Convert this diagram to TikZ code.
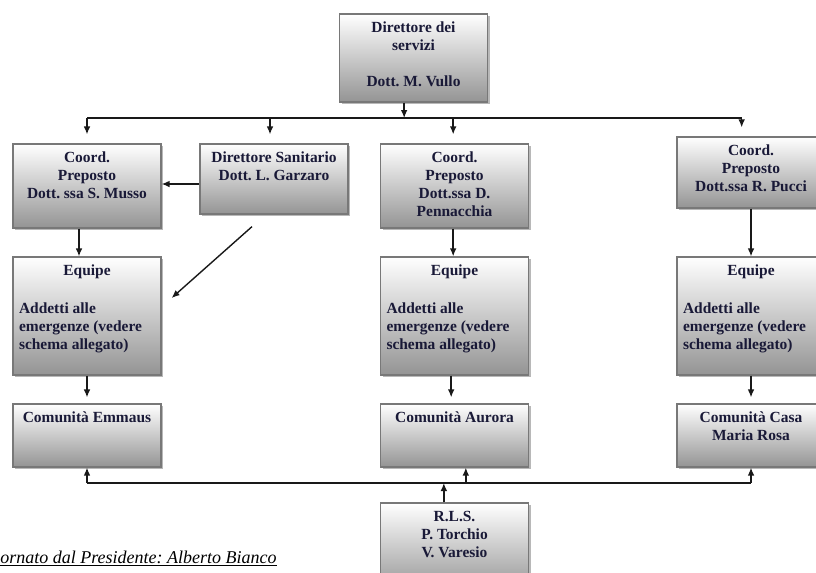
\documentclass[tikz,border=0pt]{standalone}
\usepackage{fontspec}
\setmainfont{Liberation Serif}
\frenchspacing
\usetikzlibrary{positioning, calc, arrows.meta, shadows}
\definecolor{testo}{RGB}{25,25,55}
\definecolor{bordo}{RGB}{120,120,120}
\tikzset{
    casella/.style={draw=bordo, line width=0.9pt, top color=white, bottom color=black!42,
        inner xsep=4.5pt, inner ysep=0pt, text=testo,
        font=\bfseries\fontsize{11.6}{13.5}\selectfont,
        drop shadow={shadow xshift=1.5pt, shadow yshift=-1.5pt, fill=black!35, opacity=0.8}},
    freccia/.style={-{Latex[length=6pt,width=5pt]}, line width=1.05pt, draw=black!90},
    linea/.style={line width=1.05pt, draw=black!90}
}
\newcommand{\riquadro}[3]{\begin{minipage}[c][#2][t]{#1}\centering\rule{0pt}{14pt}#3\end{minipage}}

\begin{document}
\begin{tikzpicture}[x=0.75pt, y=-0.75pt]
    \useasboundingbox (0,0) rectangle (816,572);
    % vertice
    \node[casella] (A) at (413.5,58){\riquadro{102pt}{66pt}{Direttore dei\\servizi\\[13.5pt]Dott. M. Vullo}};
    % coordinatori
    \node[casella] (B) at (87,186){\riquadro{102pt}{63pt}{Coord.\\Preposto\\Dott. ssa S. Musso}};
    \node[casella] (C) at (274,179){\riquadro{102pt}{52.5pt}{Direttore Sanitario\\Dott. L. Garzaro}};
    \node[casella] (D) at (454.5,186){\riquadro{102pt}{63pt}{Coord.\\Preposto\\Dott.ssa D.\\Pennacchia}};
    \node[casella] (E) at (751,172.5){\riquadro{102pt}{53.25pt}{Coord.\\Preposto\\Dott.ssa R. Pucci}};
    % equipe
    \node[casella] (F) at (87,316){\riquadro{102pt}{88.5pt}{Equipe\par\vspace{15pt}\raggedright Addetti alle\\emergenze (vedere\\schema allegato)}};
    \node[casella] (G) at (454.5,316){\riquadro{102pt}{88.5pt}{Equipe\par\vspace{15pt}\raggedright Addetti alle\\emergenze (vedere\\schema allegato)}};
    \node[casella] (H) at (751,316){\riquadro{102pt}{88.5pt}{Equipe\par\vspace{15pt}\raggedright Addetti alle\\emergenze (vedere\\schema allegato)}};
    % comunita
    \node[casella] (I) at (87,435.5){\riquadro{102pt}{47.25pt}{Comunità Emmaus}};
    \node[casella] (J) at (454.5,435.5){\riquadro{102pt}{47.25pt}{Comunità Aurora}};
    \node[casella] (K) at (751,435.5){\riquadro{102pt}{47.25pt}{Comunità Casa\\Maria Rosa}};
    % rls
    \node[casella] (L) at (454.5,548){\riquadro{102pt}{67.5pt}{R.L.S.\\P. Torchio\\V. Varesio}};
    \node[anchor=base west, inner sep=0pt, font=\itshape\fontsize{13.5}{16}\selectfont] (P) at (0,563){\underline{ornato dal Presidente: Alberto Bianco}};
    % collegamenti in alto
    \coordinate (alto) at (0,118);
    \coordinate (basso) at (0,483);
    \draw[freccia] ([xshift=-7pt]A.south) -- ([xshift=-7pt]A.south |- alto);
    \draw[linea] (B.north |- alto) -- ([xshift=-7pt]E.north |- alto);
    \draw[freccia, shorten >=6.75pt] (B.north |- alto) -- (B.north);
    \draw[freccia, shorten >=6.75pt] ([xshift=-3pt]C.north |- alto) -- ([xshift=-3pt]C.north);
    \draw[freccia, shorten >=6.75pt] ([xshift=-1pt]D.north |- alto) -- ([xshift=-1pt]D.north);
    \draw[freccia, shorten >=6.75pt] ([xshift=-7pt]E.north |- alto) -- ([xshift=-7pt]E.north);
    \draw[freccia] ([yshift=-3.75pt]C.west) -- ([yshift=-3.75pt]C.west -| B.east);
    \draw[freccia] ([xshift=-16.5pt,yshift=-9pt]C.south) -- ([xshift=7.5pt,yshift=13.5pt]F.east);
    % verso le equipe
    \draw[freccia] ([xshift=-6pt]B.south) -- ([xshift=-6pt]B.south |- F.north);
    \draw[freccia] ([xshift=-1pt]D.south) -- ([xshift=-1pt]D.south |- G.north);
    \draw[freccia] (E.south) -- (H.north);
    \draw[freccia, shorten >=4.5pt] (F.south) -- (I.north);
    \draw[freccia, shorten >=4.5pt] ([xshift=-2.5pt]G.south) -- ([xshift=-2.5pt]G.south |- J.north);
    \draw[freccia, shorten >=4.5pt] (H.south) -- (K.north);
    % collegamenti in basso
    \draw[linea] (I.south |- basso) -- (K.south |- basso);
    \draw[freccia] (I.south |- basso) -- (I.south);
    \draw[freccia] ([xshift=8.5pt]J.south |- basso) -- ([xshift=8.5pt]J.south);
    \draw[freccia] (K.south |- basso) -- (K.south);
    \draw[freccia] ([xshift=-8pt]L.north) -- ([xshift=-8pt]L.north |- basso);
\end{tikzpicture}
\end{document}
